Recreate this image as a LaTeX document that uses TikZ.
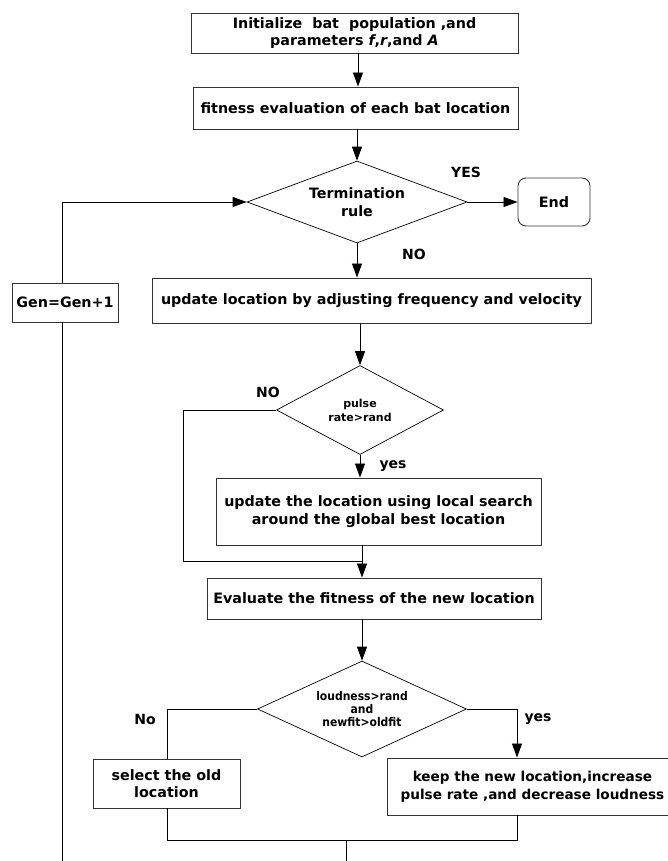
\documentclass[tikz,border=0pt]{standalone}
\usepackage{fontspec}
\setmainfont{DejaVu Sans}
\newfontfamily\condfont{DejaVu Sans Condensed}
\usepackage{xcolor}
\usetikzlibrary{shapes.geometric,arrows.meta}

\tikzset{
  box/.style={draw=black!80,line width=0.9pt,rectangle,align=center,inner sep=0pt},
  decide/.style={draw,line width=0.7pt,diamond,align=center,inner sep=0pt},
  arr/.style={-{Triangle[length=14pt,width=10pt]}},
  lbl/.style={font=\fontsize{14}{16}\selectfont\bfseries}
}

\begin{document}
\begin{tikzpicture}[x=1pt,y=-1pt,line width=0.8pt,
    every node/.style={font=\fontsize{14.3}{17.6}\selectfont\bfseries}]
  \useasboundingbox (0,0) rectangle (667,861);
  % boxes and decisions
  \node[box,minimum width=327,minimum height=40] (init) at (354.5,33)
    {Initialize\ \ bat\ \ population ,and\\parameters \textit{f},\textit{r},and \textit{A}};
  \node[box,minimum width=325,minimum height=42] (fit) at (355.5,108)
    {fitness evaluation of each bat location};
  \node[decide,shape aspect=2.68,minimum width=220,minimum height=82] (term) at (357,202)
    {Termination\\rule};
  \node[box,rounded corners=8pt,minimum width=72,minimum height=48] (end) at (554,202) {End};
  \node[box,minimum width=106,minimum height=39] (gen) at (65,302.5) {Gen=Gen+1};
  \node[box,minimum width=439,minimum height=45] (upd) at (371.5,300.5)
    {update location by adjusting frequency and velocity};
  \node[decide,shape aspect=1.88,minimum width=167,minimum height=89,font=\fontsize{11}{14}\selectfont\bfseries] (pulse) at (360,410)
    {pulse\\rate>rand};
  \node[box,minimum width=325,minimum height=67] (local) at (378.5,511.5)
    {update the location using local search\\around the global best location};
  \node[box,minimum width=334,minimum height=41] (eval) at (374,598.5)
    {Evaluate the fitness of the new location};
  \node[decide,shape aspect=2.18,minimum width=209,minimum height=96,font=\condfont\fontsize{12}{13}\selectfont\bfseries] (loud) at (362,709)
    {loudness>rand\\and\\newfit>oldfit};
  \node[box,minimum width=147,minimum height=49] (old) at (166.5,783.5)
    {select the old\\location};
  \node[box,anchor=west,inner xsep=4pt,minimum width=290,minimum height=57,font=\fontsize{13.6}{17.6}\selectfont\bfseries] (keep) at (387,786.5)
    {keep the new location,increase\\pulse rate ,and decrease loudness};
  % bends
  \coordinate (loopbot) at (62,861);
  \coordinate (nobend) at (183,561);
  \coordinate (join) at (362,561);
  \coordinate (oldbend) at (167,709);
  \coordinate (yesbend) at (517,709);
  \coordinate (merge) at (346,840);
  \coordinate (mergeend) at (346,861);
  % connectors
  \draw[arr] (init.south -| 358,0) -- (fit.north -| 358,0);
  \draw[arr] (fit.south -| term.north) -- (term.north);
  \draw[arr] (term.east) -- (end.west);
  \draw[arr] (term.south) -- (term.south |- upd.north);
  \draw[arr] (upd.south -| pulse.north) -- (pulse.north);
  \draw[arr] (pulse.south) -- (pulse.south |- local.north);
  \draw (pulse.west) -| (nobend) -- (join);
  \draw (local.south -| join) -- (join);
  \draw[arr] (join) -- (join |- eval.north);
  \draw[arr] (eval.south -| loud.north) -- (loud.north);
  \draw (loud.west) -- (oldbend) -- (oldbend |- old.north);
  \draw (loud.east) -- (yesbend);
  \draw[arr] (yesbend) -- (yesbend |- keep.north);
  \draw (old.south -| oldbend) |- (merge);
  \draw (keep.south -| yesbend) |- (merge);
  \draw (merge) -- (mergeend);
  \draw (loopbot) -- (loopbot |- gen.south);
  \draw[arr] (loopbot |- gen.north) |- (term.west);
  % labels
  \node[lbl] (yes1) at (466,172) {YES};
  \node[lbl] (no1) at (414,254) {NO};
  \node[lbl] (no2) at (268,392) {NO};
  \node[lbl] (yes2) at (393,466) {yes};
  \node[lbl] (no3) at (145,719) {No};
  \node[lbl] (yes3) at (538,719) {yes};
\end{tikzpicture}
\end{document}
